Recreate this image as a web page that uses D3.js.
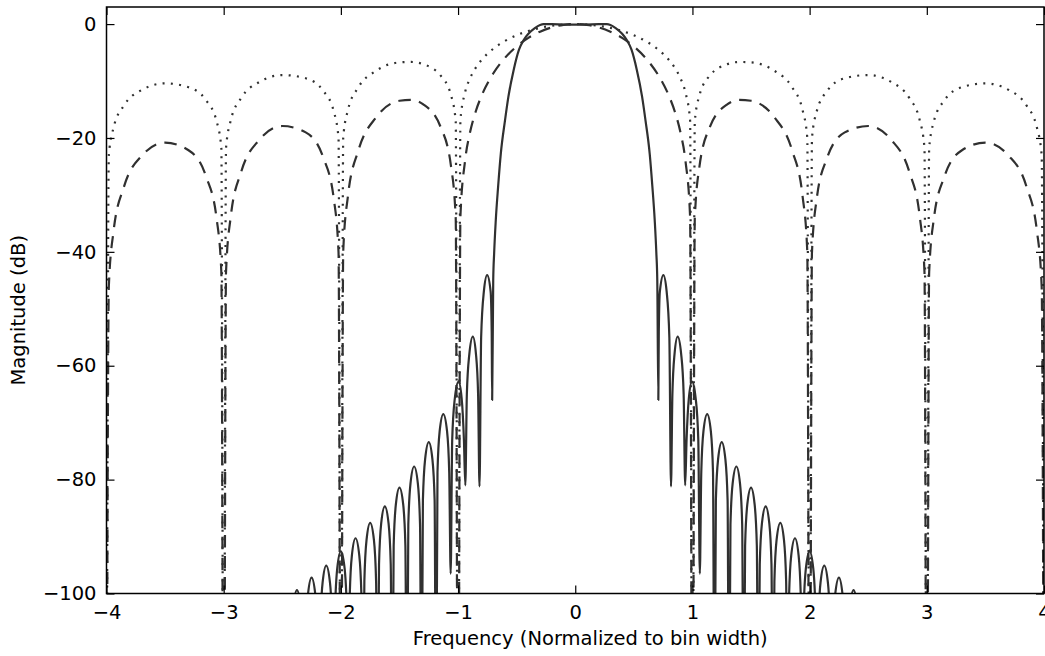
<!DOCTYPE html>
<html>
<head>
<meta charset="utf-8">
<script src="https://cdn.jsdelivr.net/npm/d3@7"></script>
<style>
  html, body { margin: 0; padding: 0; background: #ffffff; }
  svg { display: block; }
  text { font-family: "DejaVu Sans", sans-serif; fill: #000; }
</style>
</head>
<body>
<svg id="chart" width="1045" height="656"></svg>
<script>
// ---------------- data ----------------
const xTicks = [-4, -3, -2, -1, 0, 1, 2, 3, 4];
const xTickLabels = ["\u22124", "\u22123", "\u22122", "\u22121", "0", "1", "2", "3", "4"];
const yTicks = [-100, -80, -60, -40, -20, 0];
const yTickLabels = ["\u2212100", "\u221280", "\u221260", "\u221240", "\u221220", "0"];
const xLabel = "Frequency (Normalized to bin width)";
const yLabel = "Magnitude (dB)";

// solid: polyphase filter-bank channel response  [frequency, dB]
const solidPoints = [
  [-4.000,-125],[-3.000,-115],[-2.600,-106],[-2.500,-101.6],
  [-2.437,-130],[-2.4245,-109.6],[-2.406,-102.4],[-2.375,-99.4],[-2.343,-102.4],[-2.3245,-109.6],
  [-2.312,-130],[-2.2995,-107.4],[-2.281,-100.2],[-2.250,-97.2],[-2.218,-100.2],[-2.1995,-107.4],
  [-2.187,-130],[-2.1745,-105.3],[-2.156,-98.1],[-2.125,-95.1],[-2.093,-98.1],[-2.0745,-105.3],
  [-2.062,-130],[-2.0495,-102.8],[-2.031,-95.6],[-2.000,-92.6],[-1.968,-95.6],[-1.9495,-102.8],
  [-1.937,-130],[-1.9245,-100.5],[-1.906,-93.3],[-1.875,-90.3],[-1.843,-93.3],[-1.8245,-100.5],
  [-1.812,-130],[-1.7995,-97.8],[-1.781,-90.6],[-1.750,-87.6],[-1.718,-90.6],[-1.6995,-97.8],
  [-1.687,-130],[-1.6745,-94.9],[-1.656,-87.7],[-1.625,-84.7],[-1.593,-87.7],[-1.5745,-94.9],
  [-1.562,-130],[-1.5495,-91.6],[-1.531,-84.4],[-1.500,-81.4],[-1.468,-84.4],[-1.4495,-91.6],
  [-1.437,-130],[-1.4245,-87.9],[-1.406,-80.7],[-1.375,-77.7],[-1.343,-80.7],[-1.3245,-87.9],
  [-1.312,-130],[-1.300,-83.6],[-1.281,-76.4],[-1.250,-73.4],[-1.219,-76.4],[-1.200,-83.6],
  [-1.188,-130],[-1.1755,-78.7],[-1.157,-71.5],[-1.126,-68.5],[-1.094,-71.5],[-1.0755,-78.7],
  [-1.063,-96.5],[-1.050,-73],[-1.028,-65.8],[-0.996,-62.8],[-0.969,-65.8],[-0.950,-73],
  [-0.938,-81],[-0.925,-65],[-0.904,-58],[-0.874,-54.9],[-0.847,-58],[-0.829,-65],
  [-0.817,-81.2],[-0.803,-55],[-0.780,-47],[-0.752,-44.1],[-0.722,-47],[-0.713,-54],
  [-0.709,-66],[-0.700,-45],[-0.692,-40.2],[-0.678,-34.4],[-0.658,-28.5],[-0.635,-22.7],
  [-0.600,-17],[-0.570,-12.7],[-0.525,-8],[-0.480,-4.5],[-0.440,-2.8],[-0.400,-1.7],
  [-0.345,-0.7],[-0.300,-0.15],[-0.270,-0.02],[-0.200,-0.02],[-0.100,-0.08],
  [0.000,-0.10],
  [0.100,-0.08],[0.200,-0.02],[0.270,-0.02],[0.300,-0.15],[0.345,-0.7],
  [0.400,-1.7],[0.440,-2.8],[0.480,-4.5],[0.525,-8],[0.570,-12.7],[0.600,-17],
  [0.635,-22.7],[0.658,-28.5],[0.678,-34.4],[0.692,-40.2],[0.700,-45],[0.709,-66],
  [0.713,-54],[0.722,-47],[0.752,-44.1],[0.780,-47],[0.803,-55],[0.817,-81.2],
  [0.829,-65],[0.847,-58],[0.874,-54.9],[0.904,-58],[0.925,-65],[0.938,-81],
  [0.950,-73],[0.969,-65.8],[0.996,-62.8],[1.028,-65.8],[1.050,-73],[1.063,-96.5],
  [1.0755,-78.7],[1.094,-71.5],[1.126,-68.5],[1.157,-71.5],[1.1755,-78.7],[1.188,-130],
  [1.200,-83.6],[1.219,-76.4],[1.250,-73.4],[1.281,-76.4],[1.300,-83.6],[1.312,-130],
  [1.3245,-87.9],[1.343,-80.7],[1.375,-77.7],[1.406,-80.7],[1.4245,-87.9],[1.437,-130],
  [1.4495,-91.6],[1.468,-84.4],[1.500,-81.4],[1.531,-84.4],[1.5495,-91.6],[1.562,-130],
  [1.5745,-94.9],[1.593,-87.7],[1.625,-84.7],[1.656,-87.7],[1.6745,-94.9],[1.687,-130],
  [1.6995,-97.8],[1.718,-90.6],[1.750,-87.6],[1.781,-90.6],[1.7995,-97.8],[1.812,-130],
  [1.8245,-100.5],[1.843,-93.3],[1.875,-90.3],[1.906,-93.3],[1.9245,-100.5],[1.937,-130],
  [1.9495,-102.8],[1.968,-95.6],[2.000,-92.6],[2.031,-95.6],[2.0495,-102.8],[2.062,-130],
  [2.0745,-105.3],[2.093,-98.1],[2.125,-95.1],[2.156,-98.1],[2.1745,-105.3],[2.187,-130],
  [2.1995,-107.4],[2.218,-100.2],[2.250,-97.2],[2.281,-100.2],[2.2995,-107.4],[2.312,-130],
  [2.3245,-109.6],[2.343,-102.4],[2.375,-99.4],[2.406,-102.4],[2.4245,-109.6],[2.437,-130],
  [2.500,-101.6],[2.600,-106],[3.000,-115],[4.000,-125]
];

// dashed: single-bin response in dB  [frequency, dB]
const dashedPoints = [
  [-4,-150],[-3.98,-45.98],[-3.94,-36.39],[-3.85,-28.51],[-3.7,-23.15],[-3.5,-20.82],[-3.3,-22.15],[-3.15,-26.77],[-3.06,-34.20],[-3.02,-43.58],
  [-3,-150],[-2.98,-43.47],[-2.94,-33.85],[-2.85,-25.90],[-2.7,-20.41],[-2.5,-17.90],[-2.3,-19.02],[-2.15,-23.45],[-2.06,-30.76],[-2.02,-40.09],
  [-2,-150],[-1.98,-39.92],[-1.94,-30.24],[-1.85,-22.15],[-1.7,-16.39],[-1.5,-13.47],[-1.4,-13.30],[-1.3,-14.06],[-1.15,-18.02],[-1.06,-24.99],[-1.02,-34.15],
  [-1,-150],[-0.98,-33.81],[-0.94,-23.95],[-0.9,-19.23],[-0.85,-15.39],[-0.8,-12.62],[-0.7,-8.686],[-0.6,-5.942],[-0.5,-3.922],[-0.4,-2.420],[-0.3,-1.326],[-0.2,-0.579],[-0.1,-0.144],
  [0,0],
  [0.1,-0.144],[0.2,-0.579],[0.3,-1.326],[0.4,-2.420],[0.5,-3.922],[0.6,-5.942],[0.7,-8.686],[0.8,-12.62],[0.85,-15.39],[0.9,-19.23],[0.94,-23.95],[0.98,-33.81],
  [1,-150],[1.02,-34.15],[1.06,-24.99],[1.15,-18.02],[1.3,-14.06],[1.4,-13.30],[1.5,-13.47],[1.7,-16.39],[1.85,-22.15],[1.94,-30.24],[1.98,-39.92],
  [2,-150],[2.02,-40.09],[2.06,-30.76],[2.15,-23.45],[2.3,-19.02],[2.5,-17.90],[2.7,-20.41],[2.85,-25.90],[2.94,-33.85],[2.98,-43.47],
  [3,-150],[3.02,-43.58],[3.06,-34.20],[3.15,-26.77],[3.3,-22.15],[3.5,-20.82],[3.7,-23.15],[3.85,-28.51],[3.94,-36.39],[3.98,-45.98],
  [4,-150]
];

// dotted: single-bin response, power scale  [frequency, dB]
const dottedPoints = [
  [-4,-150],[-3.98,-22.99],[-3.94,-18.20],[-3.85,-14.26],[-3.7,-11.58],[-3.5,-10.41],[-3.3,-11.08],[-3.15,-13.39],[-3.06,-17.10],[-3.02,-21.79],
  [-3,-150],[-2.98,-21.74],[-2.94,-16.93],[-2.85,-12.95],[-2.7,-10.21],[-2.5,-8.95],[-2.3,-9.51],[-2.15,-11.73],[-2.06,-15.38],[-2.02,-20.05],
  [-2,-150],[-1.98,-19.96],[-1.94,-15.12],[-1.85,-11.08],[-1.7,-8.20],[-1.5,-6.73],[-1.4,-6.65],[-1.3,-7.03],[-1.15,-9.01],[-1.06,-12.50],[-1.02,-17.08],
  [-1,-150],[-0.98,-16.91],[-0.94,-11.98],[-0.9,-9.62],[-0.85,-7.70],[-0.8,-6.31],[-0.7,-4.343],[-0.6,-2.971],[-0.5,-1.961],[-0.4,-1.210],[-0.3,-0.663],[-0.2,-0.290],[-0.1,-0.072],
  [0,0],
  [0.1,-0.072],[0.2,-0.290],[0.3,-0.663],[0.4,-1.210],[0.5,-1.961],[0.6,-2.971],[0.7,-4.343],[0.8,-6.31],[0.85,-7.70],[0.9,-9.62],[0.94,-11.98],[0.98,-16.91],
  [1,-150],[1.02,-17.08],[1.06,-12.50],[1.15,-9.01],[1.3,-7.03],[1.4,-6.65],[1.5,-6.73],[1.7,-8.20],[1.85,-11.08],[1.94,-15.12],[1.98,-19.96],
  [2,-150],[2.02,-20.05],[2.06,-15.38],[2.15,-11.73],[2.3,-9.51],[2.5,-8.95],[2.7,-10.21],[2.85,-12.95],[2.94,-16.93],[2.98,-21.74],
  [3,-150],[3.02,-21.79],[3.06,-17.10],[3.15,-13.39],[3.3,-11.08],[3.5,-10.41],[3.7,-11.58],[3.85,-14.26],[3.94,-18.20],[3.98,-22.99],
  [4,-150]
];

// ---------------- layout ----------------
const svg = d3.select("#chart");
const plot = { left: 106.5, right: 1044, top: 7, bottom: 593.5 };
const fontSize = 19.5;
const lineColor = "#303030";

const x = d3.scaleLinear().domain([-4, 4]).range([plot.left, plot.right]);
const y = d3.scaleLinear().domain([-100, 3]).range([plot.bottom, plot.top]);

svg.append("defs").append("clipPath").attr("id", "clip")
  .append("rect")
  .attr("x", plot.left).attr("y", plot.top)
  .attr("width", plot.right - plot.left).attr("height", plot.bottom - plot.top);

const line = d3.line()
  .x(d => x(d[0]))
  .y(d => y(d[1]))
  .curve(d3.curveMonotoneX);

const lines = svg.append("g").attr("clip-path", "url(#clip)");

lines.append("path").datum(solidPoints)
  .attr("d", line).attr("fill", "none")
  .attr("stroke", lineColor).attr("stroke-width", 2.2)
  .attr("stroke-linejoin", "round");

lines.append("path").datum(dashedPoints)
  .attr("d", line).attr("fill", "none")
  .attr("stroke", lineColor).attr("stroke-width", 2.2)
  .attr("stroke-dasharray", "12.5,8.5");

lines.append("path").datum(dottedPoints)
  .attr("d", line).attr("fill", "none")
  .attr("stroke", lineColor).attr("stroke-width", 2.2)
  .attr("stroke-dasharray", "2,6.3");

// ---------------- axes (matplotlib classic style: inward ticks on all sides) ----------------
const tickLen = 8;
const axStroke = "#000";

const xAxisBottom = d3.axisBottom(x).tickValues(xTicks)
  .tickSizeInner(-tickLen).tickSizeOuter(0)
  .tickFormat((d, i) => xTickLabels[i]).tickPadding(12);
const xAxisTop = d3.axisTop(x).tickValues(xTicks)
  .tickSizeInner(-tickLen).tickSizeOuter(0).tickFormat("");
const yAxisLeft = d3.axisLeft(y).tickValues(yTicks)
  .tickSizeInner(-tickLen).tickSizeOuter(0)
  .tickFormat((d, i) => yTickLabels[i]).tickPadding(10);
const yAxisRight = d3.axisRight(y).tickValues(yTicks)
  .tickSizeInner(-tickLen).tickSizeOuter(0).tickFormat("");

function styleAxis(g) {
  g.select(".domain").remove();
  g.selectAll(".tick line").attr("stroke", axStroke).attr("stroke-width", 1.2);
  g.selectAll(".tick text")
    .attr("font-family", "DejaVu Sans, sans-serif")
    .attr("font-size", fontSize).attr("fill", "#000");
}

svg.append("g").attr("transform", `translate(0,${plot.bottom})`).call(xAxisBottom).call(styleAxis);
svg.append("g").attr("transform", `translate(0,${plot.top})`).call(xAxisTop).call(styleAxis);
svg.append("g").attr("transform", `translate(${plot.left},0)`).call(yAxisLeft).call(styleAxis);
svg.append("g").attr("transform", `translate(${plot.right},0)`).call(yAxisRight).call(styleAxis);

// frame
svg.append("rect")
  .attr("x", plot.left).attr("y", plot.top)
  .attr("width", plot.right - plot.left).attr("height", plot.bottom - plot.top)
  .attr("fill", "none").attr("stroke", axStroke).attr("stroke-width", 1.5);

// axis titles
svg.append("text")
  .attr("x", (plot.left + plot.right) / 2 + 15).attr("y", 645)
  .attr("text-anchor", "middle").attr("font-size", fontSize)
  .text(xLabel);

svg.append("text")
  .attr("transform", `translate(25,${(plot.top + plot.bottom) / 2 + 10}) rotate(-90)`)
  .attr("text-anchor", "middle").attr("font-size", fontSize)
  .text(yLabel);
</script>
</body>
</html>
